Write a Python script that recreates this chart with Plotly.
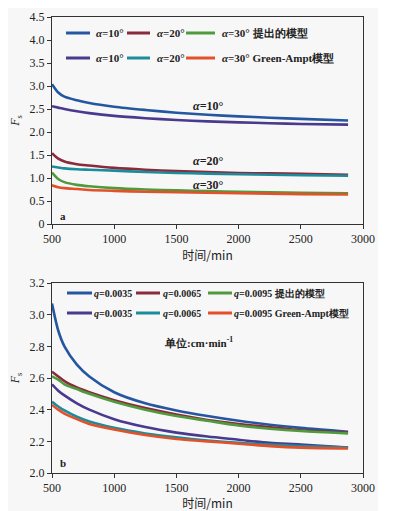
import plotly.graph_objects as go
from plotly.subplots import make_subplots

# ---- data ----
time_min = [500, 550, 600, 700, 800, 1000, 1250, 1500, 1750, 2000, 2250, 2500, 2880]

# panel a (slope angle)
a_prop_10 = [3.04, 2.86, 2.77, 2.69, 2.63, 2.55, 2.48, 2.42, 2.375, 2.34, 2.31, 2.285, 2.25]
a_prop_20 = [1.54, 1.42, 1.36, 1.30, 1.27, 1.22, 1.18, 1.15, 1.13, 1.11, 1.10, 1.09, 1.07]
a_prop_30 = [1.12, 0.98, 0.91, 0.85, 0.82, 0.78, 0.75, 0.73, 0.715, 0.70, 0.69, 0.68, 0.67]
a_ga_10 = [2.56, 2.53, 2.50, 2.45, 2.41, 2.35, 2.30, 2.26, 2.23, 2.21, 2.19, 2.175, 2.16]
a_ga_20 = [1.25, 1.23, 1.21, 1.19, 1.18, 1.16, 1.13, 1.11, 1.095, 1.08, 1.07, 1.06, 1.05]
a_ga_30 = [0.84, 0.80, 0.78, 0.76, 0.74, 0.72, 0.70, 0.69, 0.68, 0.67, 0.66, 0.65, 0.64]

# panel b (rainfall intensity)
b_prop_35 = [3.07, 2.90, 2.80, 2.685, 2.61, 2.51, 2.44, 2.395, 2.36, 2.33, 2.305, 2.285, 2.26]
b_prop_65 = [2.64, 2.61, 2.58, 2.54, 2.51, 2.46, 2.41, 2.37, 2.335, 2.31, 2.29, 2.27, 2.255]
b_prop_95 = [2.61, 2.59, 2.56, 2.53, 2.50, 2.45, 2.40, 2.36, 2.33, 2.30, 2.28, 2.265, 2.25]
b_ga_35 = [2.56, 2.52, 2.49, 2.44, 2.40, 2.34, 2.29, 2.255, 2.23, 2.21, 2.19, 2.18, 2.16]
b_ga_65 = [2.45, 2.42, 2.395, 2.355, 2.325, 2.285, 2.25, 2.225, 2.205, 2.19, 2.18, 2.17, 2.16]
b_ga_95 = [2.43, 2.40, 2.375, 2.34, 2.31, 2.275, 2.24, 2.215, 2.20, 2.185, 2.17, 2.16, 2.155]

a_labels = ["<i>α</i>=10°", "<i>α</i>=20°", "<i>α</i>=30° 提出的模型",
            "<i>α</i>=10°", "<i>α</i>=20°", "<i>α</i>=30° Green-Ampt模型"]
b_labels = ["<i>q</i>=0.0035", "<i>q</i>=0.0065", "<i>q</i>=0.0095 提出的模型",
            "<i>q</i>=0.0035", "<i>q</i>=0.0065", "<i>q</i>=0.0095 Green-Ampt模型"]

a_ticks = [0, 0.5, 1.0, 1.5, 2.0, 2.5, 3.0, 3.5, 4.0, 4.5]
a_ticktext = ["0", "0.5", "1.0", "1.5", "2.0", "2.5", "3.0", "3.5", "4.0", "4.5"]
b_ticks = [2.0, 2.2, 2.4, 2.6, 2.8, 3.0, 3.2]
x_ticks = [500, 1000, 1500, 2000, 2500, 3000]

colors = ["#2557a0", "#8a2a3c", "#4e9a3c", "#4a3a8e", "#1c8c9c", "#e2512a"]

# ---- figure ----
# page body has an 8px default margin, so the figure is offset by 8px
OFF = 8
PAGE_W, PAGE_H = 393, 511
W, H = PAGE_W - OFF, PAGE_H - OFF
PL, PR, PT, PB = 52, 363, 17, 473          # plot-area edges in page pixels
ML, MT = PL - OFF, PT - OFF
MR, MB = PAGE_W - PR, PAGE_H - PB
PW, PH = PR - PL, PB - PT

def px_x(p):
    return (p - PL) / PW

def px_y(p):
    return (PB - p) / PH

fig = make_subplots(rows=2, cols=1)

FONT = "Liberation Serif"
CJK = "Noto Sans CJK SC"

a_series = [a_prop_10, a_prop_20, a_prop_30, a_ga_10, a_ga_20, a_ga_30]
b_series = [b_prop_35, b_prop_65, b_prop_95, b_ga_35, b_ga_65, b_ga_95]

for i, ys in enumerate(a_series):
    fig.add_trace(go.Scatter(x=time_min, y=ys, mode="lines",
                             line=dict(color=colors[i], width=2.6, shape="spline", smoothing=0.8),
                             showlegend=False, hoverinfo="skip"), row=1, col=1)
for i, ys in enumerate(b_series):
    fig.add_trace(go.Scatter(x=time_min, y=ys, mode="lines",
                             line=dict(color=colors[i], width=2.6, shape="spline", smoothing=0.8),
                             showlegend=False, hoverinfo="skip"), row=2, col=1)

axis_common = dict(showline=True, linecolor="#333", linewidth=1, mirror=True, ticks="outside",
                   ticklen=4, tickcolor="#333", showgrid=False, zeroline=False, automargin=False,
                   tickfont=dict(family=FONT, size=12, color="#222"))

fig.update_xaxes(range=[500, 3000], tickvals=x_ticks, **axis_common)
for r in (1, 2):
    fig.update_xaxes(title=dict(text="时间/min", font=dict(family=CJK, size=12, color="#222"), standoff=1),
                     row=r, col=1)
fig.update_yaxes(**axis_common)
fig.update_yaxes(range=[0, 4.5], tickvals=a_ticks, ticktext=a_ticktext,
                 domain=[px_y(224), px_y(17)], row=1, col=1,
                 title=dict(text="<i>F</i><sub>s</sub>", font=dict(family=FONT, size=12, color="#222"), standoff=8))
fig.update_yaxes(range=[2.0, 3.2], tickvals=b_ticks, tickformat=".1f",
                 domain=[px_y(473), px_y(283)], row=2, col=1,
                 title=dict(text="<i>F</i><sub>s</sub>", font=dict(family=FONT, size=12, color="#222"), standoff=8))
fig.update_xaxes(domain=[0, 1])

shapes = []
annotations = []

# light grey page background
shapes.append(dict(type="rect", xref="paper", yref="paper", x0=px_x(8), x1=px_x(378), y0=px_y(511), y1=px_y(8),
                   fillcolor="#f7f7f7", line=dict(width=0), layer="below"))

def legend(rows_y, line_x, text_x, labels, size):
    for r in range(2):
        for c in range(3):
            k = r * 3 + c
            shapes.append(dict(type="line", xref="paper", yref="paper",
                               x0=px_x(line_x[c][0]), x1=px_x(line_x[c][1]),
                               y0=px_y(rows_y[r]), y1=px_y(rows_y[r]),
                               line=dict(color=colors[k], width=3)))
            annotations.append(dict(xref="paper", yref="paper", x=px_x(text_x[c]), y=px_y(rows_y[r]),
                                    xanchor="left", yanchor="middle", showarrow=False, text="<b>" + labels[k] + "</b>",
                                    font=dict(family=FONT, size=size, color="#222")))

legend([33, 58], [(66, 90), (127, 150), (186, 215)], [94, 155, 220], a_labels, 11)
legend([293, 313], [(67, 92), (136, 160), (208, 232)], [92, 161, 232], b_labels, 10)

# in-plot labels (panel a)
for txt, yv in [("<b><i>α</i>=10°</b>", 2.56), ("<b><i>α</i>=20°</b>", 1.36), ("<b><i>α</i>=30°</b>", 0.84)]:
    annotations.append(dict(xref="x", yref="y", x=1750, y=yv, text=txt, showarrow=False,
                            font=dict(family=FONT, size=12, color="#222")))
annotations.append(dict(xref="x", yref="y", x=590, y=0.17, text="<b>a</b>", showarrow=False,
                        font=dict(family=FONT, size=11, color="#222")))
annotations.append(dict(xref="x2", yref="y2", x=590, y=2.06, text="<b>b</b>", showarrow=False,
                        font=dict(family=FONT, size=11, color="#222")))
annotations.append(dict(xref="x2", yref="y2", x=1680, y=2.83, text="<b>单位:cm·min<sup>-1</sup></b>", showarrow=False,
                        font=dict(family=FONT, size=11, color="#222")))

fig.update_layout(width=W, height=H, margin=dict(l=ML, r=MR, t=MT, b=MB),
                  paper_bgcolor="white", plot_bgcolor="#fbfbfb",
                  shapes=shapes, annotations=annotations, showlegend=False)

fig.write_html("out.html")
